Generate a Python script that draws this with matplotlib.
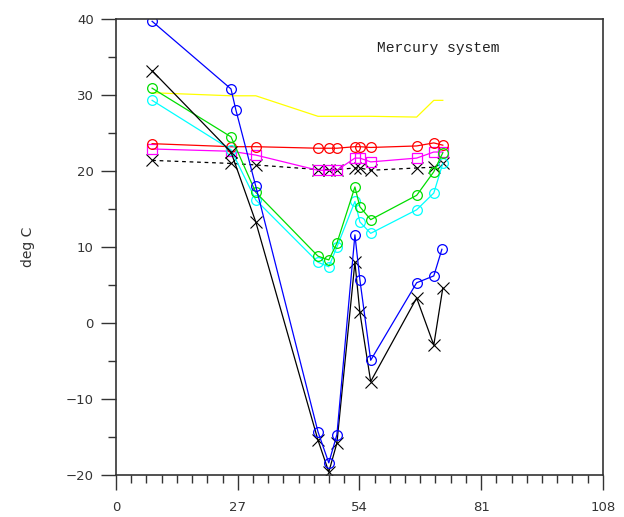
import matplotlib
matplotlib.use("Agg")
import matplotlib.pyplot as plt
from matplotlib.ticker import MultipleLocator

x_blue = [8.0, 25.5, 26.6, 31.0, 44.8, 47.2, 49.0, 53.0, 54.1, 56.5, 66.7, 70.5, 72.3]
t_blue = [39.7, 30.8, 28.0, 18.0, -14.3, -18.4, -14.7, 11.6, 5.7, -4.9, 5.3, 6.2, 9.7]

x_main = [8.0, 25.5, 31.0, 44.8, 47.2, 49.0, 53.0, 54.1, 56.5, 66.7, 70.5, 72.5]
t_black = [33.2, 22.5, 13.3, -15.4, -19.6, -15.8, 8.0, 1.4, -7.7, 3.3, -2.9, 4.6]
t_green = [30.9, 24.5, 17.2, 8.8, 8.3, 10.5, 17.9, 15.3, 13.6, 16.8, 19.9, 22.4]
t_cyan = [29.3, 22.8, 16.2, 8.0, 7.4, 10.0, 16.0, 13.3, 11.8, 14.9, 17.1, 21.0]
t_red = [23.6, 23.2, 23.2, 23.0, 23.0, 23.0, 23.2, 23.2, 23.1, 23.3, 23.7, 23.4]
t_magenta = [22.9, 22.6, 22.1, 20.1, 20.1, 20.1, 21.7, 21.7, 21.2, 21.7, 22.5, 22.5]
t_dashed = [21.4, 21.0, 20.8, 20.2, 20.2, 20.2, 20.4, 20.4, 20.1, 20.4, 20.5, 21.0]
t_yellow = [30.3, 29.9, 29.9, 27.2, 27.2, 27.2, 27.2, 27.2, 27.2, 27.1, 29.3, 29.3]

xticks = [0, 27, 54, 81, 108]
yticks = [-20, -10, 0, 10, 20, 30, 40]

fig = plt.figure(figsize=(6.24, 5.17), dpi=100)
ax = fig.add_axes([0.186, 0.0812, 0.780, 0.882])

lw = 0.9
ax.plot(x_main, t_yellow, color="#ffff00", lw=lw)
ax.plot(x_main, t_dashed, color="black", lw=lw, ls=(0, (3, 3)),
        marker="x", ms=8, mew=0.8)
ax.plot(x_main, t_magenta, color="#ff00ff", lw=lw,
        marker="s", ms=7.5, mfc="none", mew=0.9)
ax.plot(x_main, t_red, color="#ff0000", lw=lw,
        marker="o", ms=7, mfc="none", mew=0.9)
ax.plot(x_main, t_cyan, color="#00ffff", lw=lw,
        marker="o", ms=7, mfc="none", mew=0.9)
ax.plot(x_main, t_green, color="#00dd00", lw=lw,
        marker="o", ms=7, mfc="none", mew=0.9)
ax.plot(x_main, t_black, color="black", lw=lw,
        marker="x", ms=8, mew=0.8)
ax.plot(x_blue, t_blue, color="#0000ff", lw=lw,
        marker="o", ms=7, mfc="none", mew=0.9)

ax.set_xlim(0, 108)
ax.set_ylim(-20, 40)
ax.set_xticks(xticks)
ax.set_yticks(yticks)
ax.xaxis.set_minor_locator(MultipleLocator(3.375))
ax.yaxis.set_minor_locator(MultipleLocator(5))
ax.tick_params(which="major", direction="out", length=11, width=1.0,
               labelsize=9.5, colors="#333333", pad=8)
ax.tick_params(which="minor", direction="out", length=5.5, width=1.0,
               colors="#333333")
ax.tick_params(axis="y", which="major", pad=5)
for s in ax.spines.values():
    s.set_linewidth(1.2)
    s.set_color("#333333")

ax.set_ylabel("deg C", fontsize=10, labelpad=22, color="#333333")
ax.text(0.536, 0.936, "Mercury system", transform=ax.transAxes, va="center",
        family="Liberation Mono", fontsize=10.5, color="#222222")

fig.savefig("out.png", dpi=100)
